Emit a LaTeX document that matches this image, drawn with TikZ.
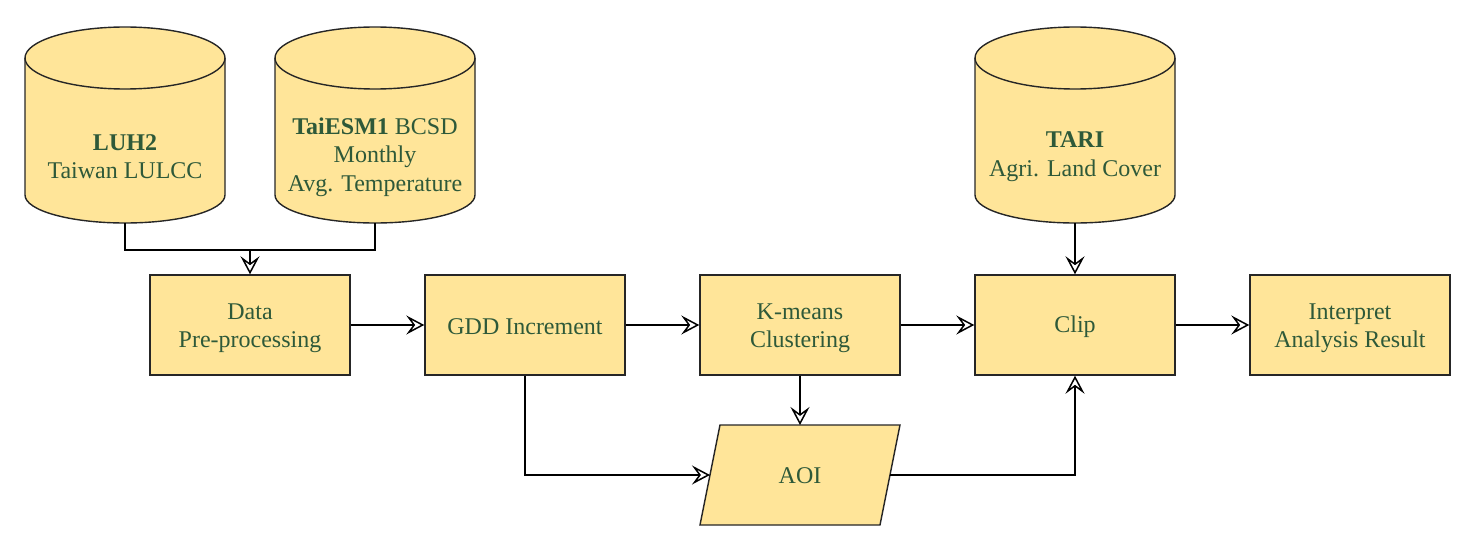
\documentclass[tikz,border=0pt]{standalone}
\usepackage{fontspec}
\setmainfont{Liberation Serif}
\usetikzlibrary{arrows.meta}
\definecolor{boxfill}{HTML}{FFE599}
\definecolor{txtc}{HTML}{2E5939}
\begin{document}
\begin{tikzpicture}[x=1pt,y=1pt,
  shp/.style={draw=black!85, line width=1.4pt, fill=boxfill},
  txt/.style={text=txtc, align=center, font=\fontsize{24}{28.5}\selectfont, inner sep=0pt},
  proc/.style={shp, minimum width=200pt, minimum height=100pt},
  conn/.style={draw=black, line width=1.5pt, -{Stealth[open, length=18pt, width=19pt, inset=7pt, fill=white]}},
  line/.style={draw=black, line width=1.5pt}
]
\useasboundingbox (0,0) rectangle (1475,550);
% cylinders
\foreach \cx/\nm in {125/a,375/b,1075/c}{
  \draw[shp] (\cx-100,492) -- (\cx-100,355) arc[start angle=180,end angle=360,x radius=100pt,y radius=28pt] -- (\cx+100,492) arc[start angle=0,end angle=180,x radius=100pt,y radius=31pt] -- cycle;
  \draw[line width=1.4pt, draw=black!85] (\cx-100,492) arc[start angle=180,end angle=360,x radius=100pt,y radius=31pt];
  \coordinate (cyl\nm) at (\cx,327);
}
\node[txt] (luh) at (125,393.5) {\textbf{LUH2}\\Taiwan LULCC};
\node[txt] (tai) at (375,393) {\textbf{TaiESM1} BCSD\\Monthly\\Avg. Temperature};
\node[txt] (tari) at (1075,393.5) {\textbf{TARI}\\Agri. Land Cover};
% process boxes
\node[proc] (pre) at (250,225) {};
\node[proc] (gdd) at (525,225) {};
\node[proc] (km) at (800,225) {};
\node[proc] (clip) at (1075,225) {};
\node[proc] (res) at (1350,225) {};
\node[txt] (pret) at (250,222) {Data\\Pre-processing};
\node[txt] (gddt) at (525,223) {GDD Increment};
\node[txt] (kmt) at (800,222) {K-means\\Clustering};
\node[txt] (clipt) at (1075,223) {Clip};
\node[txt] (rest) at (1350,222) {Interpret\\Analysis Result};
% AOI parallelogram
\draw[shp] (700,25) -- (880,25) -- (900,125) -- (720,125) -- cycle;
\node[txt] (aoi) at (800,74) {AOI};
\coordinate (aoil) at (710,75);
\coordinate (aoir) at (890,75);
\coordinate (aoit) at (800,125);
\coordinate (j) at (250,300);
% connectors
\draw[line] (cyla) |- (j) -| (cylb);
\draw[conn] (j) -- (pre.north);
\draw[conn] (pre) -- (gdd);
\draw[conn] (gdd) -- (km);
\draw[conn] (km) -- (clip);
\draw[conn] (clip) -- (res);
\draw[conn] (cylc) -- (clip.north);
\draw[conn] (km.south) -- (aoit);
\draw[conn] (gdd.south) |- (aoil);
\draw[conn] (aoir) -| (clip.south);
\end{tikzpicture}
\end{document}
